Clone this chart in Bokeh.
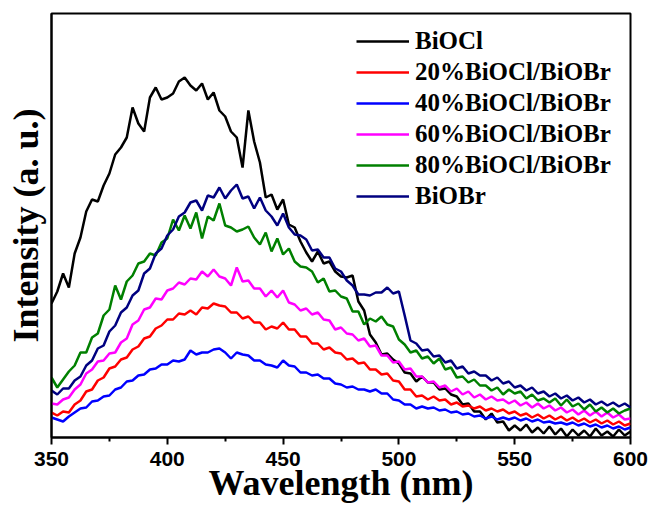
from bokeh.plotting import figure
from bokeh.models import Range1d, FixedTicker, Legend, LegendItem
from bokeh.embed import file_html
from bokeh.resources import INLINE

wavelength = [
    350.0, 352.5, 355.0, 357.5, 360.0, 362.5, 365.0, 367.5, 370.0, 372.5,
    375.0, 377.5, 380.0, 382.5, 385.0, 387.5, 390.0, 392.5, 395.0, 397.5,
    400.0, 402.5, 405.0, 407.5, 410.0, 412.5, 415.0, 417.5, 420.0, 422.5,
    425.0, 427.5, 430.0, 432.5, 435.0, 437.5, 440.0, 442.5, 445.0, 447.5,
    450.0, 452.5, 455.0, 457.5, 460.0, 462.5, 465.0, 467.5, 470.0, 472.5,
    475.0, 477.5, 480.0, 482.5, 485.0, 487.5, 490.0, 492.5, 495.0, 497.5,
    500.0, 502.5, 505.0, 507.5, 510.0, 512.5, 515.0, 517.5, 520.0, 522.5,
    525.0, 527.5, 530.0, 532.5, 535.0, 537.5, 540.0, 542.5, 545.0, 547.5,
    550.0, 552.5, 555.0, 557.5, 560.0, 562.5, 565.0, 567.5, 570.0, 572.5,
    575.0, 577.5, 580.0, 582.5, 585.0, 587.5, 590.0, 592.5, 595.0, 597.5,
    600.0,
]

biocl = [
    134, 146, 164, 150, 184, 200, 226, 238, 236, 252,
    264, 283, 290, 300, 330, 314, 306, 340, 350, 338,
    340, 344, 356, 360, 352, 347, 354, 338, 345, 327,
    321, 306, 300, 270, 327, 296, 275, 240, 243, 228,
    238, 213, 210, 196, 185, 176, 186, 174, 176, 166,
    161, 160, 162, 136, 127, 103, 95, 83, 84, 78,
    74, 65, 64, 56, 61, 55, 55, 48, 49, 43,
    41, 33, 34, 26, 26, 18, 24, 15, 16, 7,
    12, 7, 13, 5, 10, 4, 11, 3, 9, 1,
    8, 2, 7, 1, 9, 2, 6, 1, 8, 2,
    6,
]

p20 = [
    25, 22, 26, 25, 33, 37, 46, 48, 57, 60,
    69, 71, 78, 80, 88, 91, 99, 101, 109, 112,
    118, 118, 124, 123, 127, 123, 130, 129, 134, 132,
    131, 125, 125, 119, 121, 115, 115, 108, 111, 109,
    115, 108, 108, 101, 101, 94, 94, 88, 90, 85,
    84, 78, 79, 74, 75, 68, 68, 63, 64, 57,
    56, 48, 48, 41, 42, 38, 41, 37, 38, 33,
    35, 31, 32, 29, 31, 27, 29, 26, 28, 24,
    26, 22, 24, 20, 23, 19, 22, 18, 21, 17,
    20, 16, 19, 15, 18, 14, 17, 13, 16, 12,
    14,
]

p40 = [
    20, 18, 16, 21, 25, 29, 30, 36, 37, 41,
    42, 48, 50, 56, 57, 62, 63, 68, 69, 73,
    73, 77, 76, 78, 87, 83, 85, 85, 88, 89,
    85, 79, 85, 83, 82, 77, 77, 73, 72, 70,
    77, 72, 71, 65, 65, 62, 63, 59, 59, 54,
    53, 50, 51, 48, 48, 46, 48, 44, 44, 38,
    37, 33, 33, 29, 31, 29, 30, 27, 28, 25,
    26, 23, 24, 21, 22, 19, 21, 18, 20, 18,
    20, 17, 19, 16, 18, 15, 16, 14, 15, 13,
    15, 12, 14, 11, 13, 10, 12, 9, 11, 8,
    10,
]

p60 = [
    34, 33, 38, 40, 48, 53, 64, 68, 76, 77,
    84, 85, 95, 99, 113, 117, 128, 130, 139, 138,
    147, 149, 155, 153, 159, 158, 166, 161, 168, 161,
    159, 152, 170, 156, 157, 149, 149, 141, 147, 140,
    147, 135, 133, 127, 129, 123, 125, 118, 117, 108,
    110, 104, 103, 97, 99, 91, 92, 82, 82, 75,
    76, 68, 69, 61, 61, 55, 56, 50, 52, 46,
    49, 43, 46, 40, 43, 38, 41, 37, 38, 34,
    37, 32, 35, 30, 34, 29, 32, 27, 30, 25,
    28, 23, 27, 22, 26, 21, 25, 20, 23, 18,
    19,
]

p80 = [
    60, 50, 58, 66, 72, 85, 85, 100, 104, 122,
    128, 152, 138, 156, 162, 174, 176, 184, 182, 195,
    199, 218, 207, 222, 209, 225, 199, 221, 217, 234,
    212, 210, 206, 208, 211, 200, 193, 205, 186, 199,
    183, 189, 176, 171, 170, 166, 155, 159, 146, 147,
    141, 139, 126, 126, 113, 119, 116, 121, 113, 111,
    98, 93, 85, 87, 79, 81, 74, 79, 68, 70,
    60, 61, 55, 58, 52, 52, 47, 50, 43, 48,
    44, 46, 39, 43, 37, 39, 35, 39, 32, 38,
    31, 34, 28, 33, 26, 30, 25, 29, 24, 27,
    29,
]

biobr = [
    47, 43, 49, 49, 57, 61, 72, 77, 89, 92,
    106, 112, 125, 130, 142, 147, 164, 169, 184, 189,
    202, 208, 221, 225, 235, 237, 227, 242, 240, 250,
    239, 247, 253, 239, 241, 229, 240, 227, 221, 212,
    224, 210, 203, 202, 198, 187, 188, 180, 180, 169,
    166, 157, 152, 143, 143, 142, 145, 145, 150, 144,
    146, 122, 97, 94, 87, 88, 81, 82, 75, 77,
    69, 71, 64, 66, 62, 62, 57, 60, 54, 56,
    50, 52, 47, 50, 44, 46, 41, 44, 39, 42,
    37, 40, 35, 38, 33, 36, 32, 35, 31, 34,
    30,
]

series_names = ["BiOCl", "20%BiOCl/BiOBr", "40%BiOCl/BiOBr",
                "60%BiOCl/BiOBr", "80%BiOCl/BiOBr", "BiOBr"]
series_values = [biocl, p20, p40, p60, p80, biobr]
colors = ["#000000", "#FF0000", "#0000FF", "#FF00FF", "#008000", "#000080"]

x_title = "Wavelength (nm)"
y_title = "Intensity (a. u.)"

p = figure(width=652, height=509, output_backend="svg", toolbar_location=None,
           x_range=Range1d(350, 600), y_range=Range1d(0, 424),
           min_border_left=51, min_border_right=22, min_border_top=13,
           min_border_bottom=72)
p.background_fill_color = "white"
p.border_fill_color = "white"
p.grid.visible = False
p.outline_line_color = "black"
p.outline_line_width = 2

items = []
for name, vals, c in zip(series_names, series_values, colors):
    r = p.line(wavelength, vals, line_color=c, line_width=2.5)
    items.append(LegendItem(label=name, renderers=[r]))

legend = Legend(items=items, location=(305, 227))
legend.border_line_color = None
legend.background_fill_alpha = 0
legend.padding = 0
legend.margin = 0
legend.spacing = 3
legend.glyph_width = 53
legend.glyph_height = 20
legend.label_height = 28
legend.label_standoff = 6
legend.label_text_font = "Liberation Serif"
legend.label_text_font_style = "bold"
legend.label_text_font_size = "25px"
legend.label_text_color = "black"
p.add_layout(legend)

xa = p.xaxis[0]
xa.ticker = FixedTicker(ticks=[350, 400, 450, 500, 550, 600],
                        minor_ticks=[375, 425, 475, 525, 575])
xa.axis_label = x_title
xa.axis_label_text_font = "Liberation Serif"
xa.axis_label_text_font_style = "bold"
xa.axis_label_text_font_size = "36px"
xa.axis_label_text_color = "black"
xa.axis_label_standoff = -6
xa.major_label_text_font = "Liberation Sans"
xa.major_label_text_font_style = "bold"
xa.major_label_text_font_size = "21px"
xa.major_label_text_color = "black"
xa.major_label_standoff = 7
xa.major_tick_out = 7
xa.major_tick_in = 0
xa.minor_tick_out = 4
xa.minor_tick_in = 0
xa.axis_line_width = 2
xa.axis_line_color = "black"
xa.major_tick_line_width = 2
xa.minor_tick_line_width = 2
xa.major_tick_line_color = "black"
xa.minor_tick_line_color = "black"

ya = p.yaxis[0]
ya.ticker = FixedTicker(ticks=[])
ya.axis_label = y_title
ya.axis_label_text_font = "Liberation Serif"
ya.axis_label_text_font_style = "bold"
ya.axis_label_text_font_size = "36px"
ya.axis_label_text_color = "black"
ya.axis_label_standoff = 6
ya.major_label_text_font_size = "0px"
ya.major_tick_line_color = None
ya.minor_tick_line_color = None
ya.axis_line_width = 2
ya.axis_line_color = "black"

open("out.html", "w").write(file_html(p, INLINE))
